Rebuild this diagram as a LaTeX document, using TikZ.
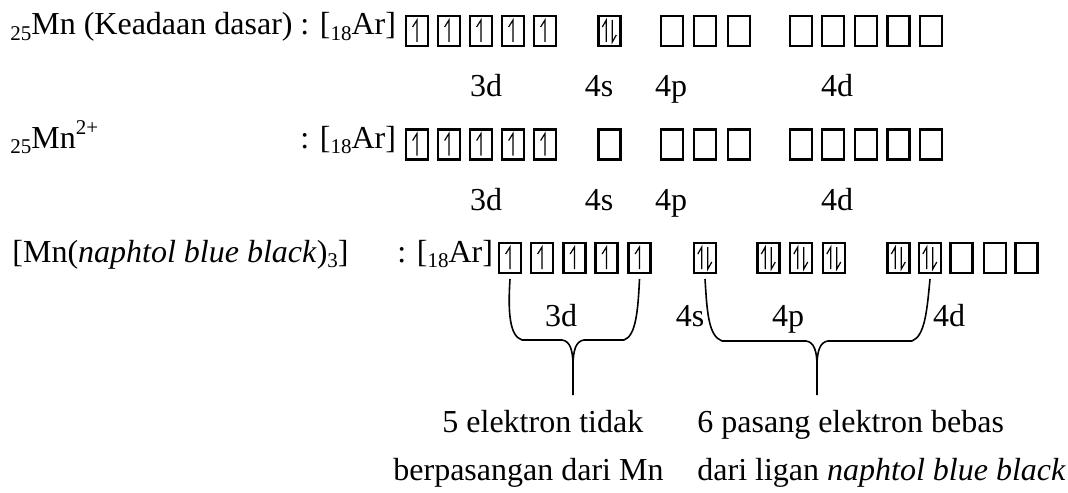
\documentclass[tikz,border=0pt]{standalone}
\usepackage{fontspec}
\setmainfont{Liberation Serif}
\usetikzlibrary{calc}
\newcommand{\subs}[1]{\raisebox{-0.18em}{\fontsize{10.5pt}{12pt}\selectfont #1}}
\newcommand{\sups}[1]{\raisebox{0.42em}{\fontsize{10.5pt}{12pt}\selectfont #1}}
\begin{document}
\begin{tikzpicture}[x=0.5pt,y=-0.5pt,
  txt/.style={anchor=base west, inner sep=0, font=\fontsize{16pt}{19pt}\selectfont},
  lbl/.style={anchor=base, inner sep=0, font=\fontsize{16pt}{19pt}\selectfont},
  orb/.style={draw, line width=1.2pt, minimum width=11pt, minimum height=15pt, inner sep=0, outer sep=0},
  one/.style={orb, path picture={
    \draw[line width=0.6pt] ($(path picture bounding box.south)+(0,2pt)$) -- ($(path picture bounding box.north)+(0,-2pt)$) -- ++(-2.2pt,-3.5pt);}},
  two/.style={orb, path picture={
    \draw[line width=0.6pt] ($(path picture bounding box.south)+(-1.6pt,2pt)$) -- ($(path picture bounding box.north)+(-1.6pt,-2pt)$) -- ++(-2pt,-3.5pt);
    \draw[line width=0.6pt] ($(path picture bounding box.north)+(1.4pt,-2pt)$) -- ($(path picture bounding box.south)+(1.4pt,2pt)$) -- ++(2pt,3.5pt);}},
  brace/.style={line width=0.8pt, line join=round}]
\useasboundingbox (0,0) rectangle (1068,492);
% ---------- row 1 ----------
\node[txt] (t1) at (10,35) {\subs{25}Mn (Keadaan dasar)};
\node[txt] (c1) at (300,35) {: [\subs{18}Ar]};
\foreach \x [count=\i] in {417,449,481,513,545} \node[one] (r1d\i) at (\x,31) {};
\node[two] (r1s) at (609.5,31) {};
\foreach \x [count=\i] in {672,705,739} \node[orb] (r1p\i) at (\x,31) {};
\foreach \x [count=\i] in {801,833,866,898.5,931} \node[orb] (r1f\i) at (\x,31) {};
\node[lbl] (l1a) at (486,97) {3d};
\node[lbl] (l1b) at (599,97) {4s};
\node[lbl] (l1c) at (671,97) {4p};
\node[lbl] (l1d) at (837,97) {4d};
% ---------- row 2 ----------
\node[txt] (t2) at (10,148) {\subs{25}Mn\sups{2+}};
\node[txt] (c2) at (300,148) {: [\subs{18}Ar]};
\foreach \x [count=\i] in {417,449,481,513,545} \node[one] (r2d\i) at (\x,144.5) {};
\node[orb] (r2s) at (609.5,144.5) {};
\foreach \x [count=\i] in {672,705,739} \node[orb] (r2p\i) at (\x,144.5) {};
\foreach \x [count=\i] in {801,833,866,898.5,931} \node[orb] (r2f\i) at (\x,144.5) {};
\node[lbl] (l2a) at (486,210) {3d};
\node[lbl] (l2b) at (599,210) {4s};
\node[lbl] (l2c) at (671,210) {4p};
\node[lbl] (l2d) at (837,210) {4d};
% ---------- row 3 ----------
\node[txt] (t3) at (12,262) {[Mn(\textit{naphtol blue black})\subs{3}]};
\node[txt] (c3) at (397,262) {: [\subs{18}Ar]};
\foreach \x [count=\i] in {510,542,574.5,606.5,639.5} \node[one] (r3d\i) at (\x,258) {};
\node[two] (r3s) at (705,258) {};
\foreach \x [count=\i] in {768.5,801,834} \node[two] (r3p\i) at (\x,258) {};
\node[two] (r3f1) at (898.5,258) {};
\node[two] (r3f2) at (930,258) {};
\foreach \x [count=\i from 3] in {961.5,995,1026.5} \node[orb] (r3f\i) at (\x,258) {};
\node[lbl] (l3a) at (561,326) {3d};
\node[lbl] (l3b) at (690,326) {4s};
\node[lbl] (l3c) at (788,326) {4p};
\node[lbl] (l3d) at (949,326) {4d};
% ---------- braces ----------
\coordinate (tip1) at (573,395);
\coordinate (tip2) at (817,395);
\draw[brace] ([yshift=-3pt]r3d1.south) .. controls (508,310) and (509,336) .. (522,340) -- (562,340)
  .. controls (570,341) and (573,350) .. (573,366) -- (tip1);
\draw[brace] ([yshift=-3pt]r3d5.south) .. controls (638,310) and (636,336) .. (624,340) -- (584,340)
  .. controls (576,341) and (573,350) .. (573,366);
\draw[brace] ([yshift=-3pt]r3s.south) .. controls (707,310) and (708,336) .. (722,341) -- (806,341)
  .. controls (814,342) and (817,351) .. (817,366) -- (tip2);
\draw[brace] ([yshift=-3pt]r3f2.south) .. controls (927,310) and (925,336) .. (912,341) -- (828,341)
  .. controls (820,342) and (817,351) .. (817,366);
% ---------- bottom texts ----------
\node[txt] (b1) at (442,432) {5 elektron tidak};
\node[txt] (b2) at (393,480) {berpasangan dari Mn};
\node[txt] (b3) at (697,432) {6 pasang elektron bebas};
\node[txt] (b4) at (697,480) {dari ligan \textit{naphtol blue black}};
\end{tikzpicture}
\end{document}
